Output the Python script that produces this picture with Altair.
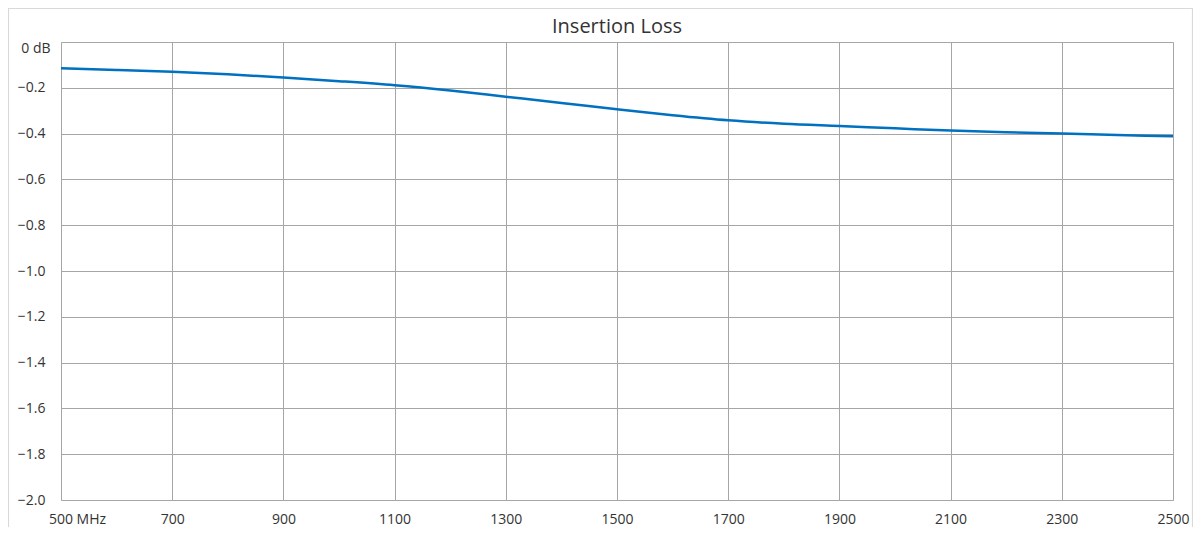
import altair as alt
import pandas as pd

# Frequency (MHz) and insertion loss (dB)
freq_mhz = [500, 600, 700, 800, 900, 1000, 1100, 1200, 1300, 1400, 1500,
            1600, 1700, 1800, 1900, 2000, 2100, 2200, 2300, 2400, 2500]
loss_db = [-0.115, -0.122, -0.130, -0.141, -0.155, -0.171, -0.189, -0.212,
           -0.239, -0.266, -0.294, -0.320, -0.342, -0.357, -0.367, -0.377,
           -0.387, -0.394, -0.400, -0.406, -0.412]

x_ticks = [500, 700, 900, 1100, 1300, 1500, 1700, 1900, 2100, 2300, 2500]
y_ticks = [0, -0.2, -0.4, -0.6, -0.8, -1.0, -1.2, -1.4, -1.6, -1.8, -2.0]
title_text = "Insertion Loss"

df = pd.DataFrame({"freq": freq_mhz, "loss": loss_db})

FONT = "Open Sans"
TXT = "#333333"
GRID = "#A6A6A6"

line = alt.Chart(df).mark_line(
    color="#0070C0", strokeWidth=2.5, interpolate="monotone"
).encode(
    x=alt.X(
        "freq:Q",
        scale=alt.Scale(domain=[500, 2500], nice=False, zero=False),
        axis=alt.Axis(
            values=x_ticks,
            title=None,
            ticks=False,
            domain=False,
            grid=True,
            gridColor=GRID,
            gridWidth=1,
            labelFont=FONT,
            labelFontSize=14,
            labelColor=TXT,
            labelPadding=12,
            labelFlush=False,
            labelOverlap=False,
            labelBound=False,
            labelOffset={"condition": {"test": "datum.value == 500", "value": 16}, "value": 0},
            labelExpr="datum.value == 500 ? '500 MHz' : format(datum.value, 'd')",
        ),
    ),
    y=alt.Y(
        "loss:Q",
        scale=alt.Scale(domain=[-2.0, 0], nice=False, zero=False),
        axis=alt.Axis(
            values=y_ticks,
            title=None,
            ticks=False,
            domain=False,
            grid=True,
            gridColor=GRID,
            gridWidth=1,
            labelFont=FONT,
            labelFontSize=14,
            labelColor=TXT,
            labelAlign="right",
            labelPadding={"condition": {"test": "datum.value == 0", "value": 11}, "value": 16},
            labelOffset={"condition": {"test": "datum.value == 0", "value": 6}, "value": 0},
            labelOverlap=False,
            labelBound=False,
            labelFlush=False,
            labelExpr="datum.value == 0 ? '0 dB' : format(datum.value, '.1f')",
        ),
    ),
)

frame = alt.Chart(pd.DataFrame({"a": [0]})).mark_rect(
    fill="transparent", stroke="#D9D9D9", strokeWidth=1.2
).encode(
    x=alt.value(-52.5), x2=alt.value(1131.5), y=alt.value(-33.5), y2=alt.value(700)
)

title = alt.Chart(pd.DataFrame({"t": [title_text]})).mark_text(
    font=FONT, fontSize=20, color=TXT, align="center", baseline="alphabetic"
).encode(text="t:N", x=alt.value(556), y=alt.value(-9))

chart = alt.layer(frame, line, title).properties(
    width=1112,
    height=458,
    autosize=alt.AutoSizeParams(type="none"),
    padding={"left": 53, "top": 34, "right": 20, "bottom": 27},
).configure_view(stroke=GRID, strokeWidth=1.2).configure(background="white")

chart.save("out.html", embed_options={"renderer": "svg", "actions": False})
